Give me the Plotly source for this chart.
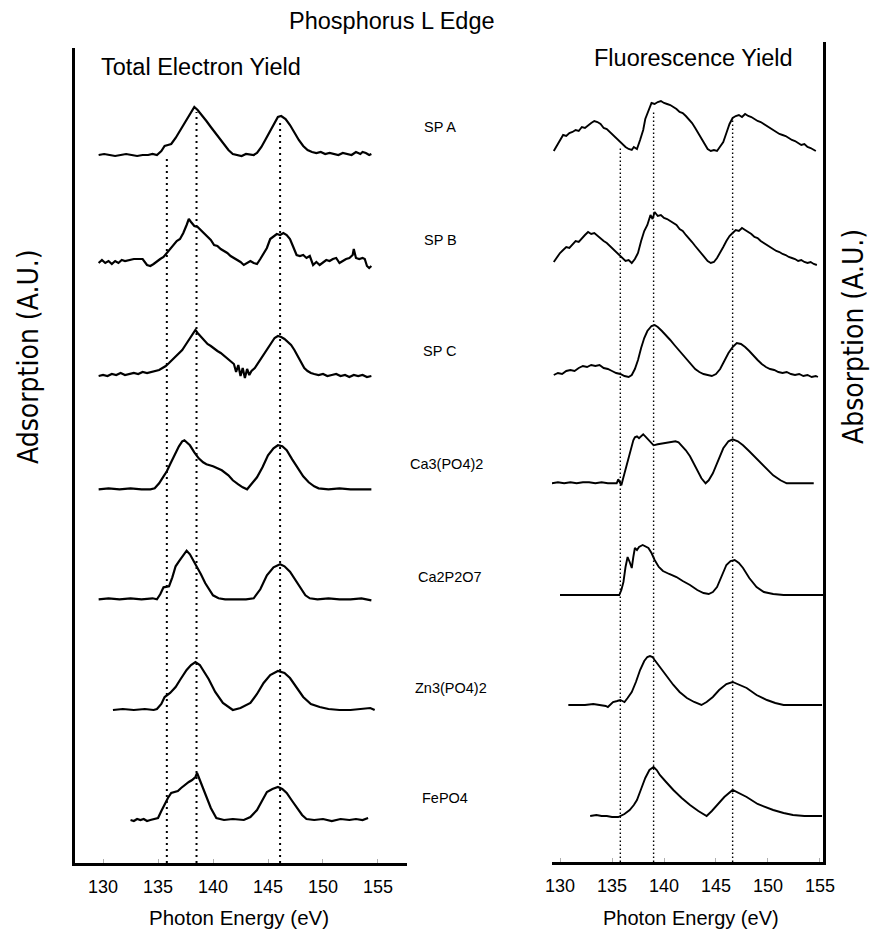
import plotly.graph_objects as go

# ---------------- data ----------------
ENERGY_TICKS = [130, 135, 140, 145, 150, 155]
SAMPLES = ["SP A", "SP B", "SP C", "Ca3(PO4)2", "Ca2P2O7", "Zn3(PO4)2", "FePO4"]

# stacking offsets (A.U.) of each spectrum
TEY_OFFSETS = [707, 597, 484, 372.7, 262.7, 152, 42]
FY_OFFSETS = [710, 597, 484, 378.7, 267, 157, 46]

# reference energies (eV) marked by dotted lines and their top heights
TEY_MARKERS = [135.8, 138.5, 146.1]
TEY_MARKER_TOPS = [705, 750, 742]
FY_MARKERS = [135.8, 139.0, 146.6]
FY_MARKER_TOPS = [714, 752, 744]

# ---- Total Electron Yield spectra: (energy eV, absorption A.U.) ----
TEY_SP_A = [(129.6,0),(130.1,1),(130.6,0),(131.1,-1),(131.6,0),(132.1,1),(132.6,0),(133.1,-1),(133.6,0),(134.1,0),
            (134.5,1),(134.9,0),(135.3,4),(135.6,9),(135.9,10),(136.2,11),(136.6,17),(137.0,24),(137.4,31),(137.8,38),
            (138.1,44),(138.3,48),(138.6,45),(139.0,40),(139.4,34),(139.8,28),(140.2,22),(140.6,16),(141.0,10),(141.4,5),
            (141.8,1),(142.2,0),(142.6,-1),(143.0,1),(143.4,0),(143.7,0),(144.0,2),(144.4,8),(144.8,16),(145.2,24),
            (145.6,33),(145.9,38),(146.2,39),(146.6,36),(147.0,30),(147.4,22),(147.8,15),(148.2,9),(148.6,5),(149.0,3),
            (149.4,2),(149.8,3),(150.2,1),(150.6,2),(151.0,1),(151.4,0),(151.8,2),(152.2,1),(152.6,0),(153.0,3),
            (153.4,1),(153.6,3),(153.9,2),(154.2,0),(154.4,1)]
TEY_SP_B = [(129.6,2),(129.9,5),(130.2,2),(130.5,4),(130.8,1),(131.1,4),(131.4,2),(131.7,5),(132.0,4),(132.4,5),
            (132.8,6),(133.2,6),(133.6,6),(134.0,0),(134.3,-1),(134.6,1),(134.9,4),(135.2,6),(135.5,8),(135.8,12),
            (136.1,15),(136.4,20),(136.7,24),(137.0,26),(137.3,32),(137.6,40),(137.8,46),(138.0,43),(138.3,39),(138.6,38),
            (138.9,35),(139.2,32),(139.5,28),(139.8,25),(140.1,20),(140.4,19),(140.7,16),(141.0,14),(141.3,12),(141.6,9),
            (141.9,7),(142.2,5),(142.5,3),(142.8,0),(143.1,2),(143.4,4),(143.7,2),(144.0,1),(144.3,6),(144.6,11),
            (144.9,17),(145.2,26),(145.5,29),(145.8,31),(146.1,30),(146.4,32),(146.7,30),(147.0,26),(147.3,18),(147.6,10),
            (147.9,9),(148.2,10),(148.5,7),(148.8,9),(149.1,0),(149.4,3),(149.7,0),(150.0,3),(150.3,5),(150.6,4),
            (150.9,6),(151.2,7),(151.5,2),(151.8,4),(152.1,6),(152.4,7),(152.7,10),(152.8,16),(153.0,7),(153.3,6),
            (153.6,7),(153.8,6),(154.0,-1),(154.2,-3),(154.4,-1)]
TEY_SP_C = [(129.6,2),(130.0,3),(130.4,2),(130.8,4),(131.2,3),(131.6,5),(132.0,3),(132.4,4),(132.8,5),(133.2,4),
            (133.6,6),(134.0,5),(134.4,6),(134.8,7),(135.1,8),(135.4,10),(135.7,12),(136.0,15),(136.3,18),(136.6,21),
            (136.9,25),(137.2,28),(137.5,33),(137.8,38),(138.1,44),(138.4,48),(138.6,45),(138.9,41),(139.2,37),(139.5,34),
            (139.8,32),(140.1,29),(140.4,27),(140.7,25),(141.0,22),(141.3,20),(141.6,17),(141.9,14),(142.1,6),(142.3,13),
            (142.5,2),(142.7,10),(142.9,0),(143.1,9),(143.3,3),(143.5,7),(143.8,10),(144.1,15),(144.4,20),(144.7,26),
            (145.0,31),(145.3,36),(145.6,40),(145.9,42),(146.2,41),(146.5,39),(146.8,36),(147.1,33),(147.4,28),(147.7,22),
            (148.0,15),(148.3,10),(148.6,7),(148.9,5),(149.2,4),(149.6,3),(150.0,4),(150.4,2),(150.8,3),(151.2,4),
            (151.6,2),(152.0,3),(152.4,1),(152.8,3),(153.2,2),(153.6,3),(154.0,1),(154.4,2)]
TEY_CA3 = [(129.6,0),(130.5,1),(131.5,0),(132.5,1),(133.5,0),(134.3,0),(134.7,1),(135.1,6),(135.5,13),(135.8,18),
           (136.1,25),(136.5,34),(136.9,43),(137.2,48),(137.4,49),(137.6,47),(137.9,44),(138.3,37),(138.7,31),(139.1,27),
           (139.4,25),(140.0,23),(140.8,19),(141.4,14),(141.8,9),(142.3,5),(142.7,2),(143.1,0),(143.5,5),(144.0,12),
           (144.5,22),(145.0,34),(145.5,41),(145.9,44),(146.3,43),(146.7,39),(147.2,30),(147.7,21),(148.2,13),(148.7,7),
           (149.2,3),(149.6,1),(150.5,0),(151.5,1),(152.5,0),(153.5,0),(154.4,0)]
TEY_CA2 = [(129.6,0),(130.5,1),(131.5,0),(132.5,1),(133.5,0),(134.5,1),(134.9,0),(135.2,5),(135.5,12),(135.8,13),
           (136.0,13),(136.3,22),(136.6,33),(136.9,38),(137.2,43),(137.6,48.6),(137.9,45),(138.2,39),(138.5,34),(138.9,25),
           (139.3,16),(139.7,9),(140.0,4),(140.5,1),(141.1,0),(142.0,0),(143.0,0),(143.7,1),(144.3,10),(144.9,24),
           (145.5,32),(146.1,35),(146.5,33),(147.0,27.6),(147.5,19),(148.0,10),(148.4,4),(148.8,1),(149.5,0),(150.5,1),
           (151.5,0),(152.5,0),(153.5,1),(154.4,-1)]
TEY_ZN3 = [(130.9,0),(131.8,1),(132.8,0),(133.8,1),(134.6,0),(134.9,1),(135.3,6),(135.6,13),(136.1,17),(136.6,23),
           (137.0,30),(137.6,40),(138.0,45),(138.4,48),(138.8,45),(139.1,40),(139.6,31),(140.2,18),(140.9,7),(141.8,0),
           (142.5,2),(143.4,7),(144.0,16),(144.6,27),(145.2,35),(145.9,39),(146.5,37),(147.0,32),(147.6,23),(148.2,13),
           (148.9,6),(149.7,3),(150.5,1),(151.5,0),(152.5,0),(153.3,1),(153.8,2),(154.3,2),(154.7,0)]
TEY_FEPO4 = [(132.5,0),(132.8,-1),(133.1,1),(133.4,0),(133.7,1),(134.0,-1),(134.3,0),(134.6,1),(135.0,2),(135.3,9),
             (135.6,16),(135.9,22),(136.2,27),(136.5,28),(136.8,29),(137.1,32),(137.4,35),(137.8,38),(138.1,40),(138.4,43),
             (138.55,47),(138.8,40),(139.1,33),(139.4,23),(139.8,12),(140.3,2),(141.0,0),(141.8,1),(142.8,0),(143.4,3),
             (144.0,10),(144.5,20),(144.9,28),(145.4,31),(145.9,33),(146.3,31),(146.7,27),(147.2,19),(147.7,11),(148.1,5),
             (148.5,1),(149.2,0),(150.0,1),(150.8,-1),(151.6,1),(152.4,0),(153.0,1),(153.6,0),(154.1,2)]

# ---- Fluorescence Yield spectra ----
FY_SP_A = [(129.4,1),(129.7,6),(130.0,11),(130.3,17),(130.6,16),(130.9,19),(131.2,20),(131.5,22),(131.8,21),(132.1,25),
           (132.4,24),(132.7,27),(133.0,29),(133.3,31),(133.6,30),(133.9,28),(134.2,24),(134.5,23),(134.8,20),(135.1,17),
           (135.4,13),(135.7,10),(136.0,8),(136.3,5),(136.6,3),(136.9,2),(137.1,5),(137.4,3),(137.7,12),(138.0,22),
           (138.2,33),(138.5,42),(138.8,49),(139.1,48),(139.4,50),(139.7,51),(140.0,49),(140.3,48),(140.6,47),(140.9,45),
           (141.2,43),(141.5,40),(141.8,39),(142.1,36),(142.4,33),(142.7,29),(143.0,24),(143.3,19),(143.6,13),(143.9,9),
           (144.2,3),(144.5,1),(144.8,2),(145.1,1),(145.4,5),(145.7,10),(146.0,19),(146.3,28),(146.6,34),(146.9,36),
           (147.2,37),(147.5,35),(147.8,38),(148.1,36),(148.4,35),(148.7,33),(149.0,31),(149.3,30),(149.6,28),(149.9,26),
           (150.2,24),(150.5,22),(150.8,20),(151.1,18),(151.4,17),(151.7,16),(152.0,14),(152.3,12),(152.6,11),(152.9,9),
           (153.2,7),(153.5,8),(153.8,5),(154.1,4),(154.4,2),(154.6,1)]
FY_SP_B = [(129.4,3),(129.7,8),(130.0,12),(130.3,15),(130.6,18),(130.9,17),(131.2,21),(131.5,24),(131.8,23),(132.1,27),
           (132.4,30),(132.7,33),(133.0,31),(133.3,32),(133.6,29),(133.9,27),(134.2,24),(134.5,22),(134.8,19),(135.1,16),
           (135.4,12),(135.7,9),(136.0,7),(136.3,4),(136.6,5),(136.9,2),(137.2,6),(137.5,12),(137.8,24),(138.1,34),
           (138.4,40),(138.7,50),(138.9,46),(139.1,53),(139.4,49),(139.7,50),(140.0,47),(140.3,46),(140.6,44),(140.9,42),
           (141.2,40),(141.5,36),(141.8,34),(142.1,30),(142.4,27),(142.7,23),(143.0,19),(143.3,15),(143.6,11),(143.9,7),
           (144.2,4),(144.5,2),(144.8,3),(145.1,7),(145.4,12),(145.7,18),(146.0,24),(146.3,29),(146.6,32),(146.9,35),
           (147.2,34),(147.5,37),(147.8,35),(148.1,33),(148.4,31),(148.7,28),(149.0,27),(149.3,24),(149.6,22),(149.9,20),
           (150.2,18),(150.5,16),(150.8,14),(151.1,13),(151.4,11),(151.7,10),(152.0,8),(152.3,7),(152.6,6),(152.9,4),
           (153.2,5),(153.5,3),(153.8,2),(154.1,3),(154.4,1),(154.7,0)]
FY_SP_C = [(129.4,3),(129.8,5),(130.2,4),(130.6,7),(131.0,8),(131.4,7),(131.8,10),(132.2,12),(132.6,11),(133.0,13),
           (133.4,12),(133.8,13),(134.2,10),(134.6,9),(135.0,7),(135.4,5),(135.8,4),(136.2,2),(136.6,1),(136.9,3),
           (137.2,9),(137.5,18),(137.8,30),(138.1,40),(138.4,47),(138.8,52),(139.1,53),(139.4,51),(139.8,47),(140.2,43),
           (140.6,38),(141.0,33),(141.4,28),(141.8,23),(142.2,18),(142.6,13),(143.0,9),(143.4,6),(143.8,4),(144.2,3),
           (144.6,2),(145.0,4),(145.4,9),(145.8,17),(146.2,25),(146.6,31),(147.0,35),(147.4,34),(147.8,31),(148.2,27),
           (148.6,22),(149.0,18),(149.4,14),(149.8,11),(150.2,9),(150.6,8),(151.0,6),(151.4,5),(151.8,6),(152.2,4),
           (152.6,3),(153.0,4),(153.4,2),(153.8,3),(154.2,1),(154.6,2),(154.8,1)]
FY_CA3 = [(129.2,0),(129.8,1),(130.4,0),(131.0,1),(131.6,0),(132.2,1),(132.8,1),(133.4,0),(134.0,1),(134.6,0),
          (135.2,0),(135.45,0),(135.6,4),(135.75,1),(135.9,-2),(136.1,6),(136.3,14),(136.5,22),(136.8,34),(137.05,43),
          (137.2,46),(137.4,47),(137.6,45),(137.8,47),(138.0,49),(138.2,47),(138.5,44),(138.8,40),(139.0,38),(139.4,39),
          (139.9,40),(140.5,41),(141.1,42),(141.4,41),(141.7,38),(142.1,33),(142.5,27),(142.8,21),(143.2,13),(143.6,5),
          (144.0,0),(144.3,3),(144.7,10),(145.2,22),(145.7,35),(146.2,42),(146.6,44),(147.1,42),(147.6,38),(148.2,32),
          (148.7,27),(149.2,22),(149.8,15),(150.5,8),(151.2,3),(151.8,0),(152.6,0),(153.4,0),(154.4,0)]
FY_CA2 = [(130.0,0),(131.0,0),(132.0,0),(133.0,0),(134.0,0),(135.0,0),(135.7,0),(135.9,5),(136.1,13),(136.3,28),
          (136.5,38),(136.7,33),(136.9,27),(137.05,38),(137.2,47),(137.4,45),(137.6,48),(137.95,50),(138.2,49),(138.5,47),
          (138.8,42),(139.1,35),(139.5,28),(139.9,24),(140.5,21),(141.2,18),(141.8,14),(142.5,10),(143.2,5),(143.8,2),
          (144.3,1),(144.7,3),(145.1,8),(145.6,20),(146.0,30),(146.4,34),(146.8,35),(147.2,32),(147.6,27),(148.2,17),
          (148.9,8),(149.6,3),(150.5,1),(151.5,0),(152.5,0),(153.5,0),(155.3,0)]
FY_ZN3 = [(130.8,0),(131.6,0),(132.4,0),(133.2,1),(134.0,0),(134.4,-1),(134.6,-2),(134.9,1),(135.1,3),(135.5,4),
          (135.8,5),(136.0,4),(136.2,3),(136.5,7),(136.9,13),(137.3,23),(137.7,35),(138.1,44),(138.4,48),(138.65,49),
          (138.9,48),(139.1,45),(139.6,38),(140.3,28),(140.9,20),(141.5,13),(142.2,7),(142.9,3),(143.6,0),(144.1,3),
          (144.7,8),(145.3,15),(146.0,21),(146.6,23),(147.3,20),(147.95,17),(148.9,10),(149.9,5),(150.7,2),(151.5,0),
          (152.5,0),(153.5,0),(155.2,0)]
FY_FEPO4 = [(132.9,0),(133.5,1),(134.0,0),(134.5,0),(135.0,-1),(135.6,-1),(136.2,2),(136.7,6),(137.1,11),(137.4,16),
            (137.8,27),(138.2,38),(138.6,46),(139.0,49),(139.3,46),(139.6,41),(140.2,34),(140.9,26),(141.7,18),(142.5,11),
            (143.3,5),(144.1,0),(144.6,5),(145.1,11),(145.8,19),(146.6,26),(147.2,23),(147.95,19),(149.0,12),(150.0,8),
            (150.5,6),(151.5,3),(152.4,1),(153.5,0),(155.2,0)]

TEY_SPECTRA = [TEY_SP_A, TEY_SP_B, TEY_SP_C, TEY_CA3, TEY_CA2, TEY_ZN3, TEY_FEPO4]
FY_SPECTRA = [FY_SP_A, FY_SP_B, FY_SP_C, FY_CA3, FY_CA2, FY_ZN3, FY_FEPO4]

# ---------------- figure ----------------
W, H = 873, 932
FONT = "Liberation Sans, Arial, sans-serif"
NARROW = "Liberation Sans Narrow, DejaVu Sans Condensed, Arial Narrow, sans-serif"


def px_x(x):
    return x / W


def px_y(y):
    return 1 - y / H


fig = go.Figure()

for spec, off in zip(TEY_SPECTRA, TEY_OFFSETS):
    fig.add_trace(go.Scatter(x=[p[0] for p in spec], y=[off + p[1] for p in spec],
                             mode="lines", line=dict(color="black", width=2.2),
                             xaxis="x", yaxis="y", showlegend=False, hoverinfo="skip"))
for spec, off in zip(FY_SPECTRA, FY_OFFSETS):
    fig.add_trace(go.Scatter(x=[p[0] for p in spec], y=[off + p[1] for p in spec],
                             mode="lines", line=dict(color="black", width=1.9),
                             xaxis="x2", yaxis="y2", showlegend=False, hoverinfo="skip"))

for e, top in zip(TEY_MARKERS, TEY_MARKER_TOPS):
    fig.add_trace(go.Scatter(x=[e, e], y=[-1, top], mode="lines",
                             line=dict(color="black", width=2, dash="2px,4px"),
                             xaxis="x", yaxis="y", showlegend=False, hoverinfo="skip"))
for e, top in zip(FY_MARKERS, FY_MARKER_TOPS):
    fig.add_trace(go.Scatter(x=[e, e], y=[0, top], mode="lines",
                             line=dict(color="black", width=1.4, dash="1.5px,2.5px"),
                             xaxis="x2", yaxis="y2", showlegend=False, hoverinfo="skip"))

xcommon = dict(tickmode="array", tickvals=ENERGY_TICKS, ticktext=[str(t) for t in ENERGY_TICKS],
               showline=True, linewidth=3, linecolor="black", showgrid=False, zeroline=False,
               ticks="inside", ticklen=4, tickwidth=1, tickcolor="#b0b0b0",
               tickfont=dict(family=FONT, size=18, color="black"), ticklabelstandoff=5,
               automargin=False, fixedrange=True)

fig.update_layout(
    width=W, height=H, template="none", showlegend=False,
    margin=dict(l=0, r=0, t=0, b=0),
    paper_bgcolor="white", plot_bgcolor="rgba(0,0,0,0)",
    font=dict(family=FONT, color="black"),
    xaxis=dict(domain=[px_x(75), px_x(407)], range=[127.45, 157.64], anchor="y", **xcommon),
    xaxis2=dict(domain=[px_x(552), px_x(823)], range=[129.23, 155.29], anchor="y2", **xcommon),
    yaxis=dict(domain=[px_y(863), px_y(48)], range=[-1, 814], anchor="x", side="left",
               showline=True, linewidth=3, linecolor="black", showgrid=False, zeroline=False,
               ticks="", showticklabels=False, automargin=False, fixedrange=True),
    yaxis2=dict(domain=[px_y(862), px_y(42)], range=[0, 820], anchor="x2", side="right",
                showline=True, linewidth=3, linecolor="black", showgrid=False, zeroline=False,
                ticks="", showticklabels=False, automargin=False, fixedrange=True),
)

ann = []
ann.append(dict(text="Phosphorus L Edge", x=px_x(392), y=px_y(21), font=dict(size=23.5)))
ann.append(dict(text="Total Electron Yield", x=px_x(201), y=px_y(67), font=dict(size=23.5)))
ann.append(dict(text="Fluorescence Yield", x=px_x(693), y=px_y(58), font=dict(size=23.5)))
ann.append(dict(text="Photon Energy (eV)", x=px_x(239), y=px_y(917), font=dict(size=20.5)))
ann.append(dict(text="Photon Energy (eV)", x=px_x(691), y=px_y(918), font=dict(size=20)))
ann.append(dict(text="Adsorption (A.U.)", x=px_x(28), y=px_y(357), textangle=-90,
                font=dict(size=28, family=NARROW)))
ann.append(dict(text="Absorption (A.U.)", x=px_x(853), y=px_y(337), textangle=-90,
                font=dict(size=28, family=NARROW)))
label_x = [440, 440, 440, 447, 450, 451, 445]
label_y = [127, 240, 351, 464, 577, 688, 798]
for name, lx, ly in zip(SAMPLES, label_x, label_y):
    ann.append(dict(text=name, x=px_x(lx), y=px_y(ly), font=dict(size=14.5)))

for a in ann:
    a.update(xref="paper", yref="paper", showarrow=False, xanchor="center", yanchor="middle")
    a.setdefault("font", {})
    a["font"].setdefault("family", FONT)
    a["font"]["color"] = "black"
fig.update_layout(annotations=ann)

fig.write_html("out.html")
